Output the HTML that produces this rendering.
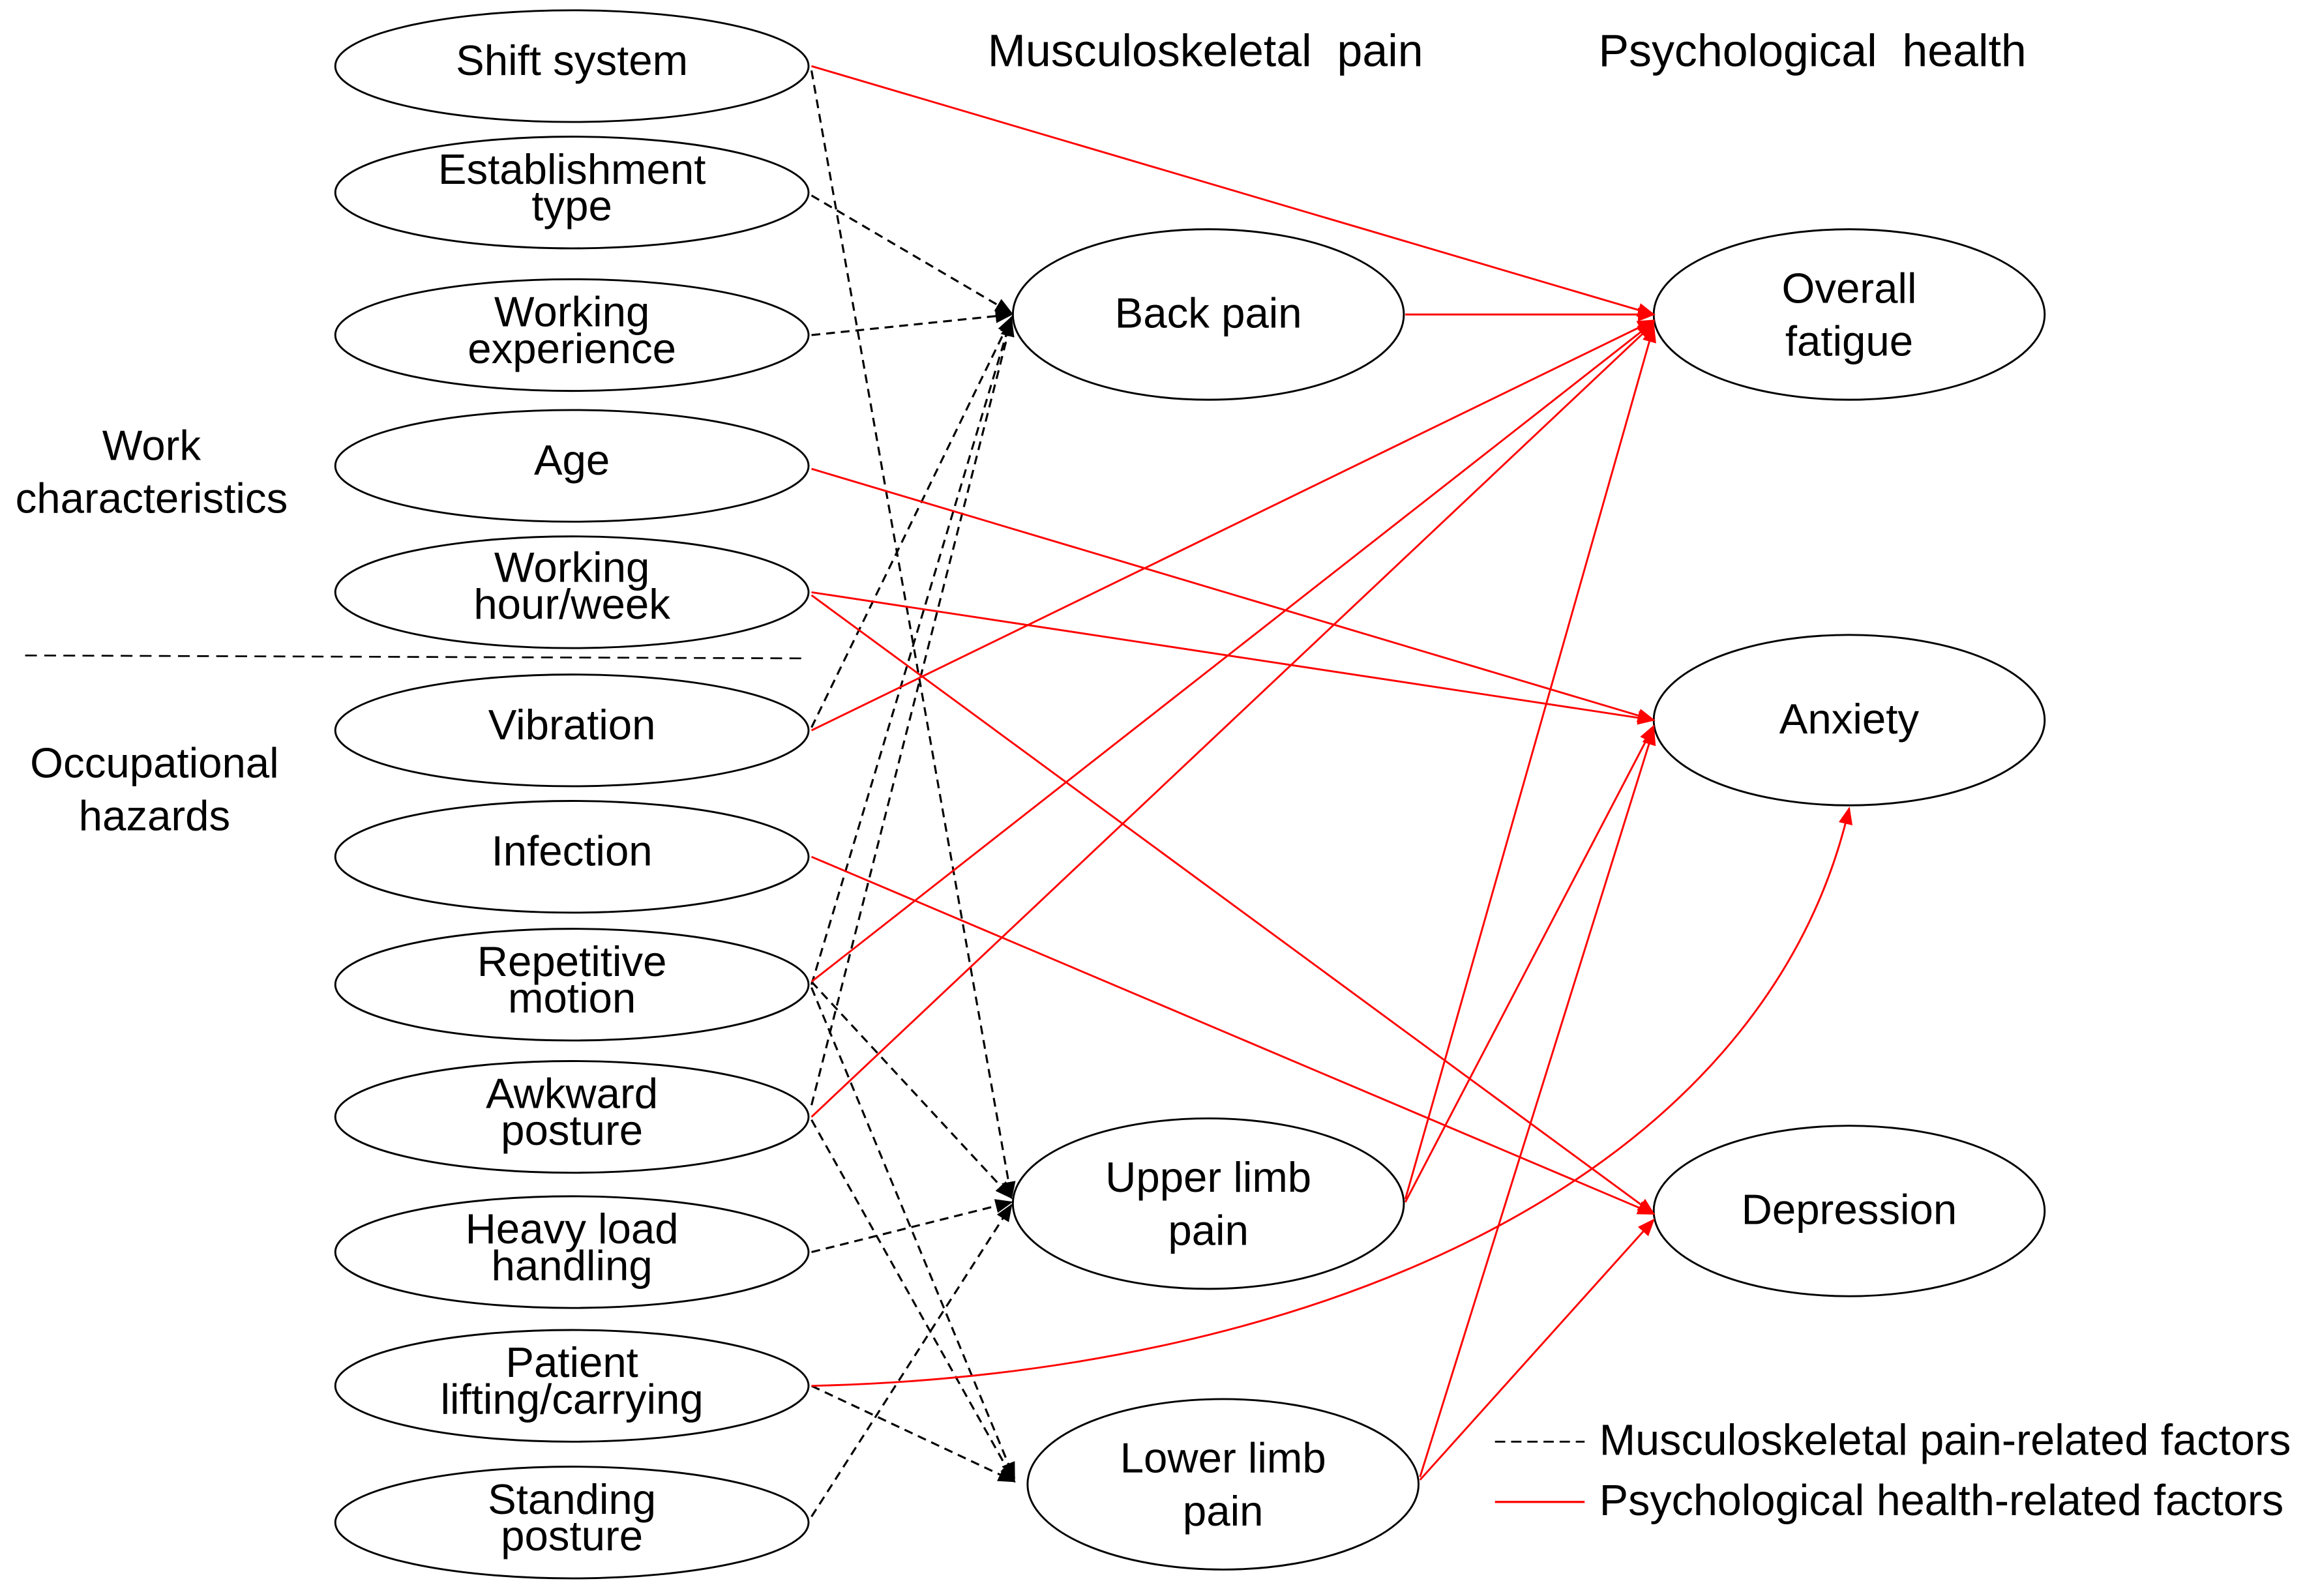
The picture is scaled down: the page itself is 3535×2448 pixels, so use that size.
<!DOCTYPE html>
<html><head><meta charset="utf-8"><style>html,body{margin:0;padding:0;background:#fff}svg{display:block}text{font-family:"Liberation Sans","Noto Sans CJK KR",sans-serif;fill:#000}</style></head>
<body>
<svg width="3535" height="2448" viewBox="0 0 1568 1086" xmlns="http://www.w3.org/2000/svg">
<defs>
<marker id="ab" viewBox="0 0 10 10" refX="9" refY="5" markerWidth="12" markerHeight="12" markerUnits="userSpaceOnUse" orient="auto"><path d="M0,1 L10,5 L0,9 z" fill="#000"/></marker>
<marker id="ar" viewBox="0 0 10 10" refX="9" refY="5" markerWidth="12" markerHeight="12" markerUnits="userSpaceOnUse" orient="auto"><path d="M0,1 L10,5 L0,9 z" fill="#f00"/></marker>
</defs>
<rect width="1568" height="1086" fill="#fff"/>
<g fill="none" stroke="#000" stroke-width="1.3">
<ellipse cx="389" cy="45" rx="161" ry="38"/>
<ellipse cx="389" cy="131" rx="161" ry="38"/>
<ellipse cx="389" cy="228" rx="161" ry="38"/>
<ellipse cx="389" cy="317" rx="161" ry="38"/>
<ellipse cx="389" cy="403" rx="161" ry="38"/>
<ellipse cx="389" cy="497" rx="161" ry="38"/>
<ellipse cx="389" cy="583" rx="161" ry="38"/>
<ellipse cx="389" cy="670" rx="161" ry="38"/>
<ellipse cx="389" cy="760" rx="161" ry="38"/>
<ellipse cx="389" cy="852" rx="161" ry="38"/>
<ellipse cx="389" cy="943" rx="161" ry="38"/>
<ellipse cx="389" cy="1036" rx="161" ry="38"/>
<ellipse cx="822" cy="214" rx="133" ry="58"/>
<ellipse cx="822" cy="819" rx="133" ry="58"/>
<ellipse cx="832" cy="1010" rx="133" ry="58"/>
<ellipse cx="1258" cy="214" rx="133" ry="58"/>
<ellipse cx="1258" cy="490" rx="133" ry="58"/>
<ellipse cx="1258" cy="824" rx="133" ry="58"/>
</g>
<g stroke="#000" stroke-width="1.4" stroke-dasharray="6,4" fill="none" marker-end="url(#ab)">
<line x1="552" y1="48" x2="688" y2="815"/>
<line x1="552" y1="133" x2="688" y2="213"/>
<line x1="552" y1="228" x2="688" y2="214"/>
<line x1="552" y1="495" x2="688" y2="216"/>
<line x1="552" y1="670" x2="688" y2="216"/>
<line x1="552" y1="668" x2="688" y2="815"/>
<line x1="552" y1="672" x2="690" y2="1006"/>
<line x1="552" y1="752" x2="688" y2="218"/>
<line x1="552" y1="762" x2="690" y2="1008"/>
<line x1="552" y1="852" x2="688" y2="818"/>
<line x1="552" y1="943" x2="690" y2="1008"/>
<line x1="552" y1="1032" x2="688" y2="820"/>
</g>
<line x1="17" y1="446" x2="549" y2="448" stroke="#000" stroke-width="1.2" stroke-dasharray="8,5"/>
<g stroke="#f00" stroke-width="1.3" fill="none" marker-end="url(#ar)">
<line x1="552" y1="45" x2="1125" y2="214"/>
<line x1="956" y1="214" x2="1125" y2="214"/>
<line x1="552" y1="319" x2="1125" y2="490"/>
<line x1="552" y1="403" x2="1125" y2="490"/>
<line x1="552" y1="405" x2="1125" y2="826"/>
<line x1="552" y1="497" x2="1125" y2="218"/>
<line x1="552" y1="583" x2="1125" y2="826"/>
<line x1="552" y1="668" x2="1125" y2="219"/>
<line x1="552" y1="760" x2="1125" y2="220"/>
<line x1="956" y1="816" x2="1125" y2="222"/>
<line x1="956" y1="818" x2="1125" y2="494"/>
<line x1="966" y1="1005" x2="1125" y2="496"/>
<line x1="966" y1="1007" x2="1125" y2="830"/>
<path d="M552 943 C 900 935, 1200 800, 1258 550"/>
</g>
<g font-size="29" text-anchor="middle">
<text x="389" y="51">Shift system</text>
<text x="389" y="125">Establishment</text><text x="389" y="150">type</text>
<text x="389" y="222">Working</text><text x="389" y="247">experience</text>
<text x="389" y="323">Age</text>
<text x="389" y="396">Working</text><text x="389" y="421">hour/week</text>
<text x="389" y="503">Vibration</text>
<text x="389" y="589">Infection</text>
<text x="389" y="664">Repetitive</text><text x="389" y="689">motion</text>
<text x="389" y="754">Awkward</text><text x="389" y="779">posture</text>
<text x="389" y="846">Heavy load</text><text x="389" y="871">handling</text>
<text x="389" y="937">Patient</text><text x="389" y="962">lifting/carrying</text>
<text x="389" y="1030">Standing</text><text x="389" y="1055">posture</text>
<text x="822" y="223">Back pain</text>
<text x="822" y="811">Upper limb</text><text x="822" y="847">pain</text>
<text x="832" y="1002">Lower limb</text><text x="832" y="1038">pain</text>
<text x="1258" y="206">Overall</text><text x="1258" y="242">fatigue</text>
<text x="1258" y="499">Anxiety</text>
<text x="1258" y="833">Depression</text>
<text x="103" y="313">Work</text><text x="103" y="349">characteristics</text>
<text x="105" y="529">Occupational</text><text x="105" y="565">hazards</text>
</g>
<g font-size="31" text-anchor="middle">
<text x="820" y="45" xml:space="preserve">Musculoskeletal  pain</text>
<text x="1233" y="45" xml:space="preserve">Psychological  health</text>
</g>
<line x1="1017" y1="981" x2="1078" y2="981" stroke="#000" stroke-width="1.3" stroke-dasharray="7,4"/>
<line x1="1017" y1="1022" x2="1078" y2="1022" stroke="#f00" stroke-width="1.5"/>
<text x="1088" y="990" font-size="29.5">Musculoskeletal pain-related factors</text>
<text x="1088" y="1031" font-size="29.5">Psychological health-related factors</text>
</svg>
</body></html>
